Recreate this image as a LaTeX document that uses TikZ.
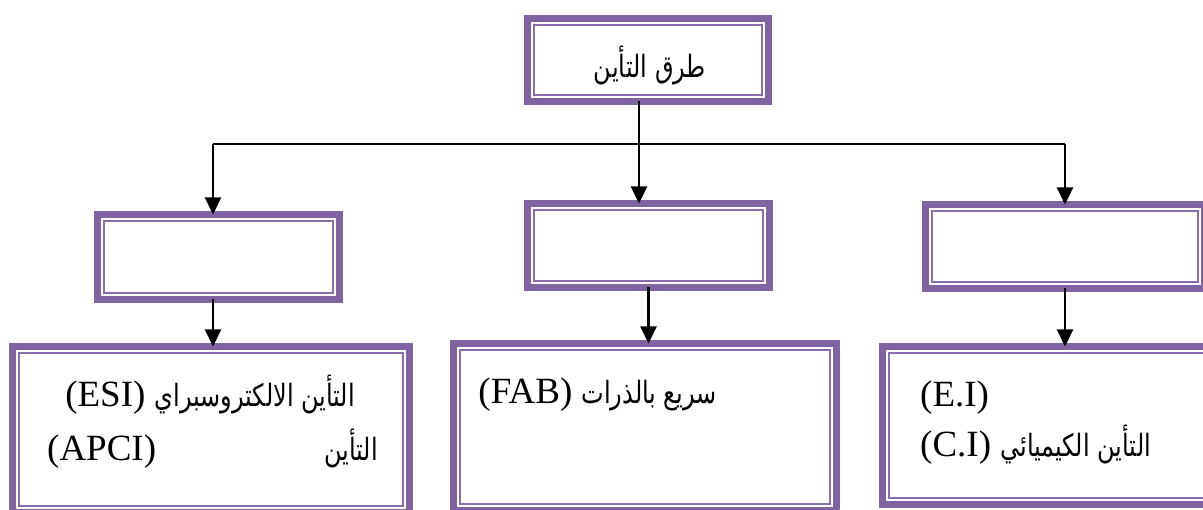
\documentclass[tikz,border=0pt]{standalone}
\usepackage{graphicx}
\usepackage{fontspec}
\setmainfont{Liberation Serif}
\newfontfamily\arabicfont[Script=Arabic]{DejaVu Sans}
\TeXXeTstate=1
\usetikzlibrary{arrows.meta}
\definecolor{boxpurple}{HTML}{8064A2}
\definecolor{innerpurple}{HTML}{8A6EAE}
\newcommand{\artext}[1]{{\arabicfont\fontsize{24}{28}\selectfont\scalebox{1}[1.28]{\beginR #1\endR}}}
\tikzset{
  pbox/.style={draw=boxpurple, line width=7.5pt, rectangle, inner sep=0pt, outer sep=0pt,
    path picture={\draw[innerpurple, line width=1.8pt]
      ([shift={(6.5pt,-6.5pt)}]path picture bounding box.north west) rectangle
      ([shift={(-6.5pt,6.5pt)}]path picture bounding box.south east);}},
  conn/.style={draw=black, line width=2.2pt},
  arr/.style={conn, -{Triangle[width=16pt,length=17pt]}},
  lat/.style={inner sep=0pt, font=\fontsize{37}{42}\selectfont},
  ara/.style={inner sep=0pt},
}
\begin{document}
\begin{tikzpicture}[x=1pt,y=-1pt]
\useasboundingbox (0,0) rectangle (1203,510);
\begin{scope}
\clip (0,0) rectangle (1203,510);
\node[pbox, minimum width=241pt, minimum height=83pt] (top) at (648,60) {};
\node[pbox, minimum width=242pt, minimum height=85pt] (lmid) at (218.5,257) {};
\node[pbox, minimum width=242pt, minimum height=84pt] (mmid) at (648.5,245.5) {};
\node[pbox, minimum width=279pt, minimum height=84pt] (rmid) at (1065,246.5) {};
\node[pbox, minimum width=397pt, minimum height=166pt] (lbot) at (211,429.5) {};
\node[pbox, minimum width=383pt, minimum height=167pt] (mbot) at (645,427) {};
\node[pbox, minimum width=369pt, minimum height=158pt] (rbot) at (1067,425.5) {};
\end{scope}

\coordinate (j) at (639,144);
\coordinate (jl) at (213,144);
\coordinate (jr) at (1065,144);
\draw[conn] (top.south -| j) -- (j);
\draw[conn] (jl) -- (jr);
\draw[arr] (jl) -- (jl |- lmid.north);
\draw[arr] (j) -- (j |- mmid.north);
\draw[arr] (jr) -- (rmid.north);
\draw[arr] (lmid.south -| jl) -- (jl |- lbot.north);
\draw[arr] (mmid.south) -- (mmid.south |- mbot.north);
\draw[arr] (rmid.south) -- (rmid.south |- rbot.north);

\node[ara, anchor=base] (ttop) at (650,78) {\artext{طرق التأين}};
\node[lat, anchor=base east] (tl1) at (355,407) {(ESI) \artext{التأين الالكتروسبراي}};
\node[ara, anchor=base east] (tl2a) at (378,461) {\artext{التأين}};
\node[lat, anchor=base west] (tl2b) at (47,461) {(APCI)};
\node[lat, anchor=base east] (tm1) at (717,404) {(FAB) \artext{سريع بالذرات}};
\node[lat, anchor=base west] (tr1) at (920,407) {(E.I)};
\node[lat, anchor=base west] (tr2) at (920,457) {(C.I) \artext{التأين الكيميائي}};
\end{tikzpicture}
\end{document}
